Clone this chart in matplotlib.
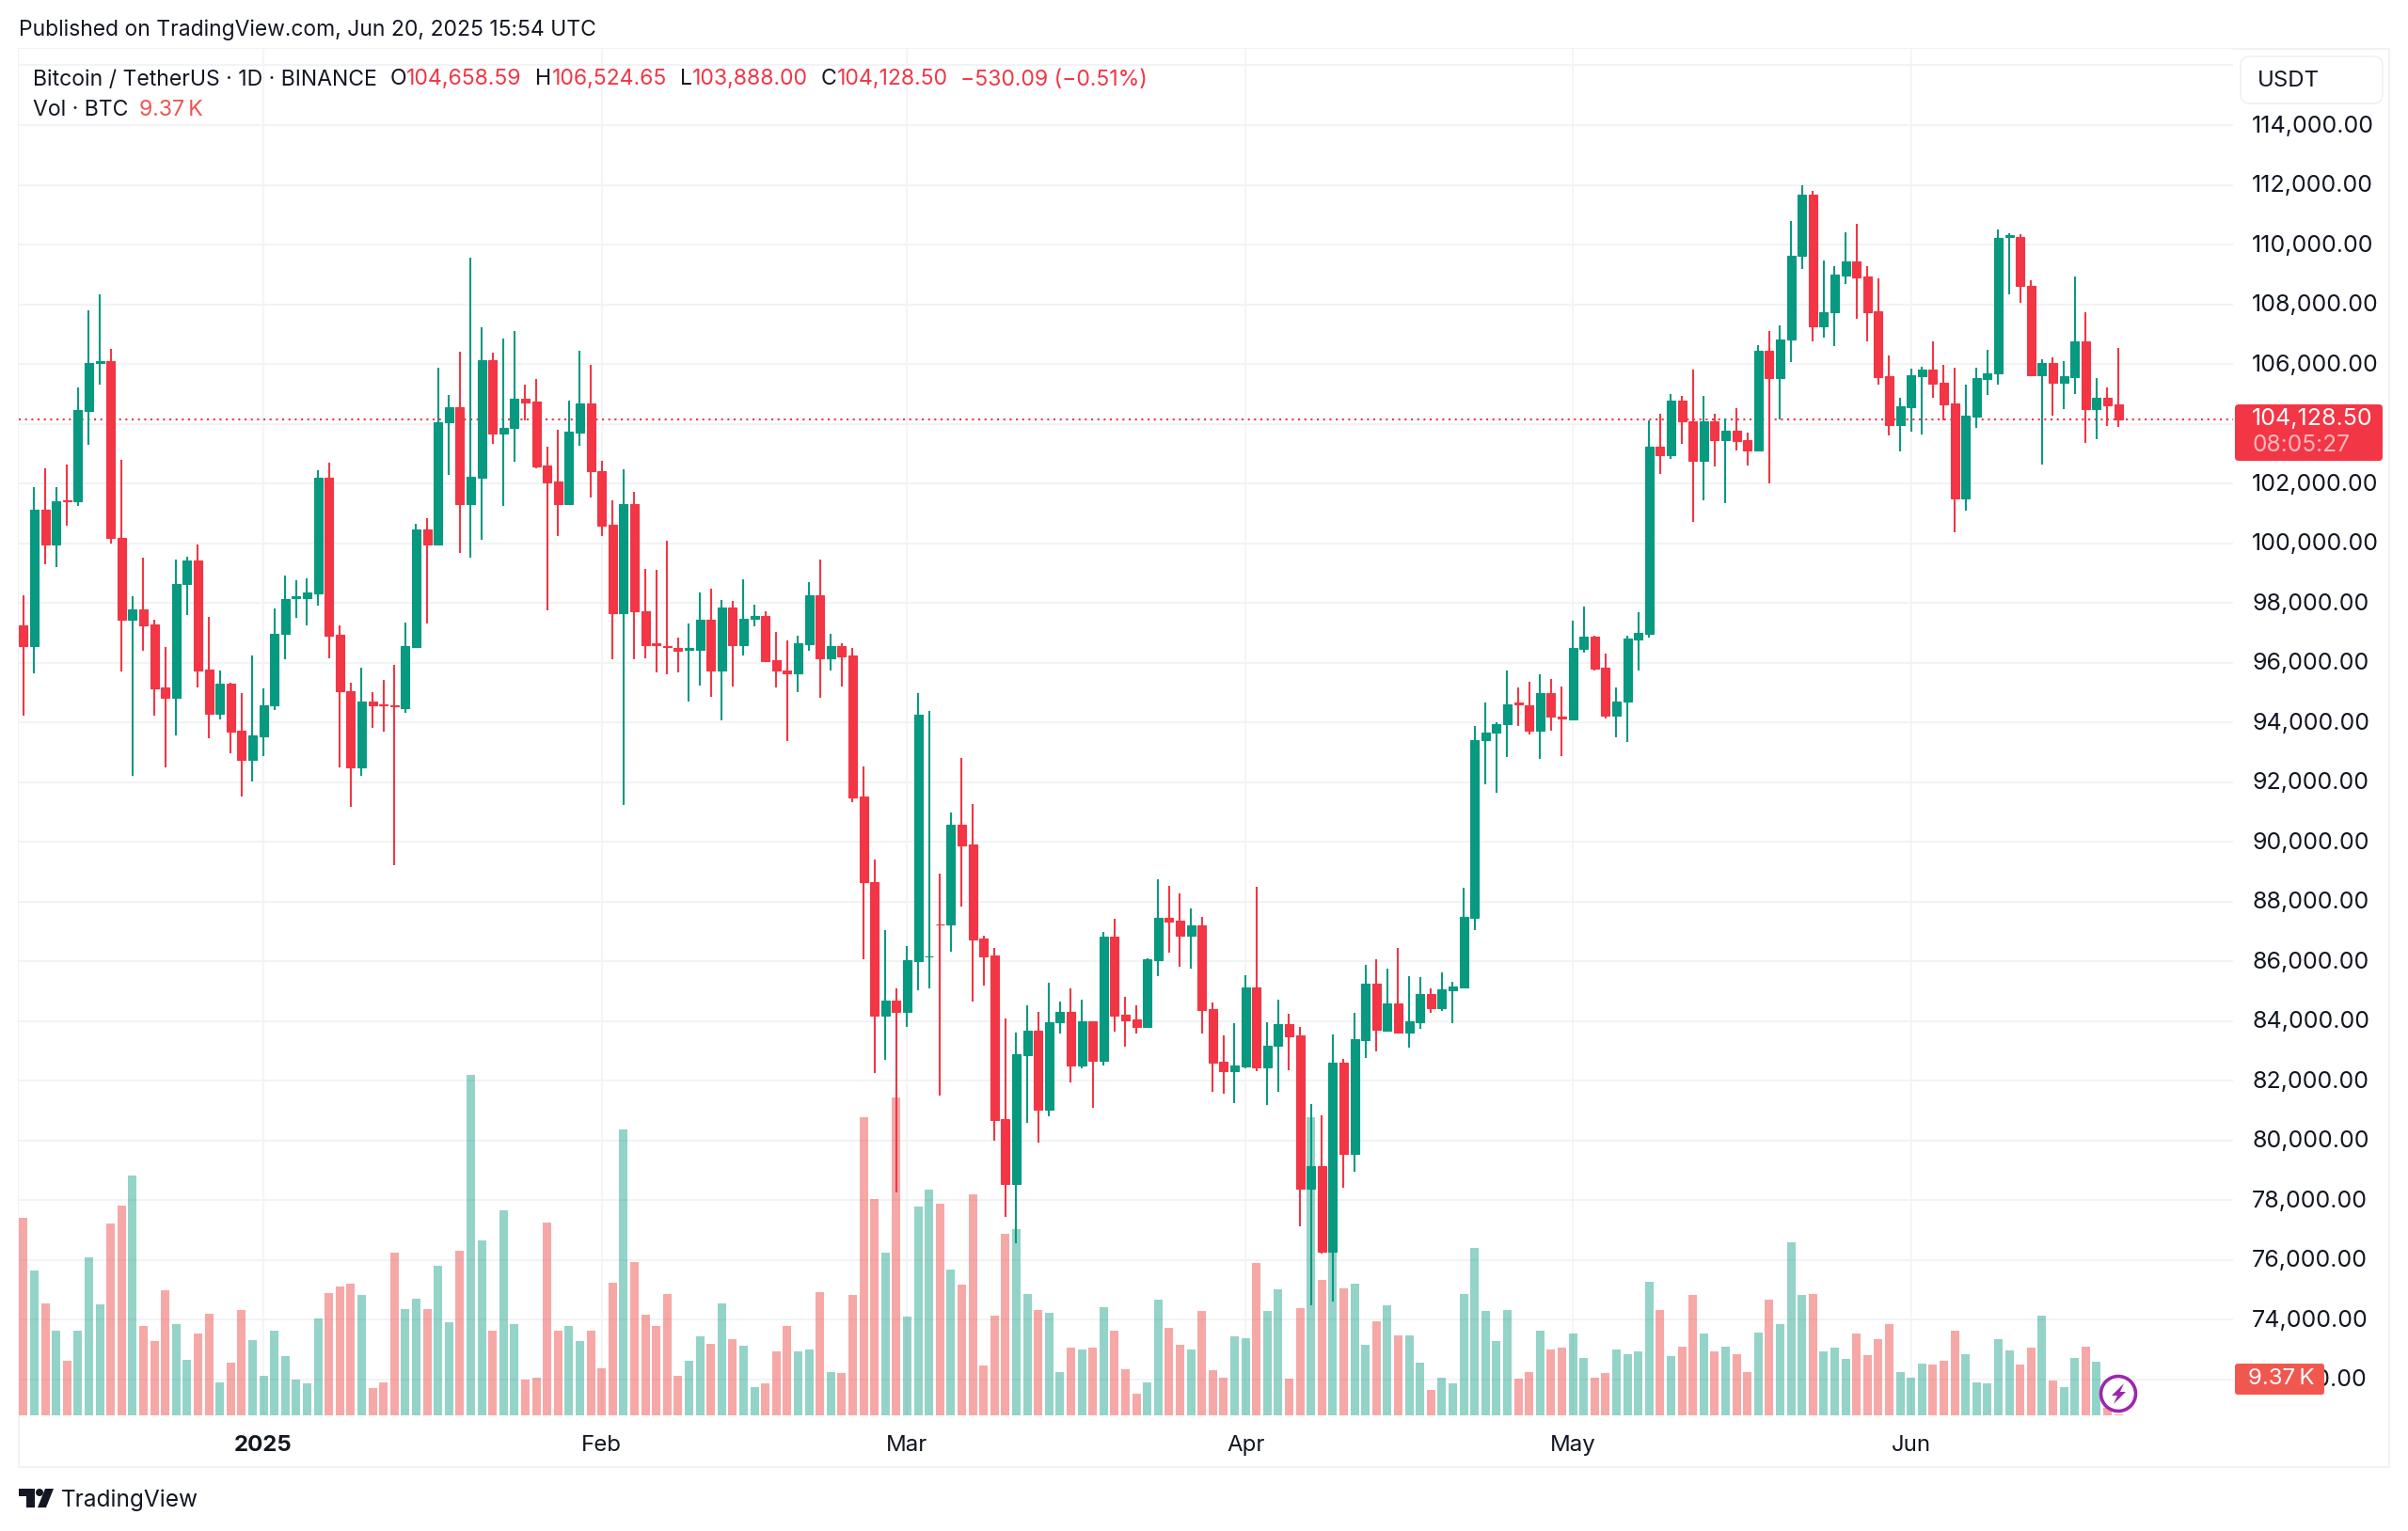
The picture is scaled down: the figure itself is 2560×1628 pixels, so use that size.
import matplotlib
matplotlib.use("Agg")
import matplotlib.dates as mdates
import pandas as pd
from matplotlib import pyplot as plt
from matplotlib.colors import to_rgba
from matplotlib.patches import Circle, FancyBboxPatch, Polygon, Rectangle
from matplotlib.transforms import Affine2D

plt.rcParams['font.family'] = ['Inter', 'DejaVu Sans']

W, H = 2560, 1628
TEXT = '#131722'
GREEN = '#089981'
RED = '#F23645'
VOL_RED = '#ef5350'
GRID = '#f2f3f5'

# daily candles, 10 Dec 2024 to 20 Jun 2025
first_day = '2024-12-10'
opens = [
    97240, 96550, 101110, 99950, 101430, 101400, 104440, 106040, 106100, 100190,
    97440, 97775, 97270, 95170, 94835, 98620, 99405, 95780, 94275, 95300,
    93710, 92755, 93540, 94555, 96960, 98170, 98170, 98325, 102200, 96930,
    95045, 92490, 94710, 94610, 94555, 94485, 96510, 100470, 99955, 104045,
    104550, 101305, 102200, 106125, 103680, 103860, 104845, 104735, 102600, 102050,
    101305, 103710, 104690, 102415, 100615, 97650, 101320, 97730, 96635, 96565,
    96480, 96425, 96425, 97440, 95735, 97845, 96580, 97465, 97550, 96090,
    95750, 95640, 96610, 98265, 96130, 96540, 96240, 91515, 88655, 84190,
    84670, 84300, 86020, 86165, 87240, 87225, 90570, 89895, 86760, 86200,
    80720, 78550, 82870, 83675, 81040, 83950, 84300, 82500, 84000, 82660,
    86825, 84205, 84060, 83785, 86035, 87465, 87370, 86855, 87195, 84400,
    82630, 82325, 82485, 85120, 82435, 83160, 83885, 83515, 78370, 79125,
    76265, 82600, 79545, 83355, 85250, 83690, 84575, 83610, 83965, 84910,
    84430, 85040, 85120, 87465, 93390, 93655, 93935, 94655, 94585, 93725,
    94975, 94205, 94105, 96465, 96875, 95835, 94220, 94695, 96790, 96975,
    103230, 102945, 104785, 104090, 102755, 104090, 103460, 103755, 103440, 103095,
    106430, 105530, 106810, 109610, 111670, 107260, 107725, 108960, 109425, 108920,
    107775, 105580, 103945, 104565, 105590, 105825, 105360, 104670, 101490, 104250,
    105510, 105685, 110250, 110265, 108615, 105620, 106030, 105370, 105570, 106770,
    104490, 104880, 104658.59,
]
highs = [
    98250, 101880, 102500, 101880, 102625, 105210, 107785, 108330, 106500, 102790,
    98225, 99520, 97440, 96510, 99460, 99545, 99955, 97520, 95720, 95330,
    94975, 96240, 95130, 97820, 98930, 98760, 98815, 102440, 102695, 97240,
    95340, 95820, 95020, 95410, 95930, 97350, 100640, 100825, 105860, 104975,
    106410, 109570, 107225, 106380, 106845, 107110, 105295, 105495, 103245, 103790,
    104760, 106435, 105985, 102750, 101445, 102470, 101710, 99125, 99095, 100095,
    96850, 97310, 98335, 98465, 98085, 98055, 98790, 97945, 97705, 97030,
    96735, 96890, 98700, 99460, 96960, 96635, 96480, 92530, 89395, 87035,
    85090, 86520, 94990, 94380, 88930, 90970, 92800, 91275, 86855, 86455,
    84075, 83610, 84525, 84300, 85280, 84640, 85105, 84720, 84000, 86985,
    87435, 84815, 84525, 86100, 88735, 88510, 88270, 87755, 87500, 84625,
    83515, 83915, 85540, 88480, 83965, 84700, 84240, 83790, 81230, 80830,
    83560, 82725, 84270, 85890, 86070, 85765, 86455, 85505, 85475, 85090,
    85635, 85315, 88450, 93865, 94680, 93993, 95750, 95175, 95355, 95595,
    95455, 95200, 97410, 97875, 96905, 96300, 95175, 96905, 97690, 104120,
    104335, 104985, 104940, 105800, 104940, 104335, 104175, 104510, 103700, 106640,
    107105, 107290, 110790, 111975, 111785, 109475, 109285, 110400, 110695, 109265,
    108870, 106275, 104880, 105855, 105905, 106770, 105980, 105885, 105300, 105885,
    106465, 110515, 110390, 110360, 108805, 106160, 106220, 106095, 108930, 107745,
    105520, 105215, 106524.65,
]
lows = [
    94220, 95637, 99290, 99195, 100600, 101250, 103300, 105310, 99980, 95690,
    92220, 96400, 94220, 92490, 93560, 97605, 95175, 93470, 94105, 92980,
    91530, 92010, 92870, 94400, 96100, 97495, 97240, 97915, 96145, 92490,
    91180, 92205, 93810, 93680, 89225, 94330, 96495, 97310, 99940, 102275,
    99660, 99530, 100110, 103340, 101235, 102725, 104115, 102500, 97760, 100250,
    101305, 103270, 101530, 100250, 96115, 91220, 96115, 96160, 95665, 95610,
    95665, 94695, 95230, 94865, 94075, 95200, 96255, 97210, 96015, 95175,
    93375, 95020, 96400, 94835, 95750, 95200, 91335, 86055, 82245, 82710,
    78260, 83800, 85040, 85105, 81490, 86310, 87820, 84640, 85185, 80000,
    77425, 76570, 80590, 79915, 80800, 83595, 81955, 82405, 81105, 82500,
    83630, 83145, 83595, 83785, 85505, 86295, 85830, 85765, 83580, 81635,
    81555, 81265, 82405, 82310, 81200, 81620, 82355, 77120, 74480, 76200,
    74595, 78420, 78950, 82775, 82985, 83675, 83580, 83095, 83740, 84270,
    84335, 83930, 85120, 87050, 91925, 91645, 92825, 93865, 93600, 92770,
    93725, 92880, 94105, 96325, 95720, 94135, 93500, 93345, 95750, 96850,
    102305, 102830, 103335, 100710, 101425, 102580, 101350, 103095, 102600, 103095,
    102000, 104135, 106075, 109190, 106765, 106875, 106600, 108665, 107510, 106745,
    105320, 103620, 103075, 103735, 103650, 104855, 104125, 100365, 101090, 103860,
    104950, 105320, 108340, 108060, 105620, 102645, 104280, 104500, 104985, 103365,
    103490, 103910, 103888.00,
]
closes = [
    96550, 101110, 99950, 101400, 101400, 104450, 106040, 106100, 100180, 97440,
    97775, 97240, 95145, 94835, 98645, 99405, 95750, 94275, 95300, 93700,
    92755, 93555, 94555, 96960, 98140, 98225, 98340, 102200, 96915, 95035,
    92500, 94710, 94585, 94585, 94525, 96540, 100470, 99955, 104060, 104550,
    101305, 102230, 106125, 103680, 103875, 104845, 104705, 102570, 102035, 101305,
    103720, 104690, 102400, 100600, 97650, 101320, 97705, 96580, 96580, 96525,
    96410, 96480, 97440, 95735, 97845, 96580, 97480, 97550, 96045, 95735,
    95640, 96635, 98265, 96130, 96540, 96215, 91490, 88640, 84190, 84670,
    84300, 86040, 94250, 86165, 87225, 90570, 89880, 86745, 86165, 80685,
    78550, 82900, 83675, 81040, 83965, 84300, 82500, 83995, 82660, 86825,
    84175, 84030, 83785, 86070, 87465, 87340, 86855, 87195, 84365, 82600,
    82325, 82520, 85120, 82455, 83160, 83885, 83480, 78370, 79125, 76265,
    82600, 79545, 83385, 85250, 83710, 84575, 83610, 83980, 84910, 84430,
    85055, 85155, 87500, 93395, 93670, 93935, 94610, 94610, 93725, 94975,
    94205, 94120, 96480, 96875, 95805, 94220, 94710, 96805, 96990, 103230,
    102945, 104785, 104070, 102755, 104090, 103460, 103755, 103420, 103095, 106430,
    105530, 106830, 109635, 111670, 107260, 107745, 108980, 109425, 108910, 107745,
    105570, 103945, 104575, 105615, 105825, 105350, 104650, 101490, 104260, 105520,
    105695, 110230, 110315, 108605, 105620, 106030, 105370, 105580, 106770, 104490,
    104880, 104615, 104128.50,
]
# volume in thousand BTC
volumes = [
    55.2, 42.9, 35.2, 28.8, 21.8, 29.0, 46.0, 35.0, 54.0, 58.1,
    65.2, 30.1, 26.5, 38.3, 30.4, 22.0, 28.2, 32.8, 16.7, 21.4,
    33.7, 26.7, 18.4, 28.8, 22.9, 17.4, 16.5, 31.7, 37.8, 39.2,
    39.9, 37.3, 15.5, 16.9, 47.1, 33.9, 36.3, 33.9, 44.1, 30.9,
    47.7, 88.8, 50.1, 29.0, 57.1, 30.4, 17.4, 18.0, 54.3, 28.8,
    29.9, 26.5, 28.8, 20.1, 40.1, 76.0, 44.9, 32.6, 30.1, 37.5,
    18.3, 21.8, 27.6, 25.8, 35.2, 26.9, 25.4, 15.8, 16.5, 24.0,
    30.1, 24.0, 24.4, 38.0, 19.2, 18.9, 37.3, 78.8, 59.8, 47.1,
    83.4, 32.2, 57.9, 61.8, 58.6, 43.3, 39.7, 60.7, 20.8, 32.4,
    51.5, 52.6, 37.5, 33.7, 33.1, 19.2, 25.0, 24.6, 25.0, 34.3,
    28.8, 19.9, 14.2, 16.7, 36.1, 29.5, 25.6, 24.4, 33.5, 19.7,
    18.0, 27.6, 27.1, 44.7, 33.5, 38.6, 17.6, 34.2, 78.8, 40.7,
    47.6, 38.8, 39.8, 25.6, 31.2, 34.8, 27.8, 27.8, 21.4, 15.0,
    17.8, 16.5, 37.5, 48.2, 33.5, 26.5, 33.7, 17.6, 19.2, 29.0,
    24.4, 25.0, 28.2, 22.5, 18.0, 19.1, 24.6, 23.5, 24.1, 40.3,
    33.7, 22.9, 25.2, 37.2, 28.2, 24.0, 25.2, 23.3, 19.3, 28.4,
    36.1, 30.4, 49.6, 37.3, 37.5, 24.1, 25.0, 22.2, 28.2, 23.1,
    26.9, 30.4, 19.2, 18.0, 21.2, 21.0, 21.8, 29.0, 23.3, 16.8,
    16.5, 26.9, 24.3, 21.0, 25.0, 32.4, 17.2, 15.6, 22.5, 25.2,
    21.6, 10.8, 9.37,
]
price_ticks = list(range(72000, 116001, 2000))
hidden_price_labels = [116000, 104000]
month_ticks = ['2025-01-01', '2025-02-01', '2025-03-01', '2025-04-01', '2025-05-01', '2025-06-01']
month_labels = ['2025', 'Feb', 'Mar', 'Apr', 'May', 'Jun']
last_price = 104128.50

fig = plt.figure(figsize=(W / 100, H / 100), dpi=100, facecolor='white')
# pixel coordinates from the top left of the picture
px = Affine2D().scale(1, -1).translate(0, H)

# plot area in pixels
left, right, top, bottom = 19.5, 2374, 52, 1505
rect = [left / W, 1 - bottom / H, (right - left) / W, (bottom - top) / H]
days = mdates.date2num(pd.date_range(first_day, periods=len(closes)))

ax = fig.add_axes(rect)
ax_vol = fig.add_axes(rect, sharex=ax)
ax_candle = fig.add_axes(rect, sharex=ax, sharey=ax)
ax.set_zorder(1)
ax_vol.set_zorder(2)
ax_candle.set_zorder(3)
ax_vol.set_axis_off()
ax_candle.set_axis_off()

day_px = 11.6
ax.set_xlim(days[0] - (24.9 - left) / day_px, days[0] + (right - 24.9) / day_px)
ax.set_ylim(70795, 116551)
ax_vol.set_ylim(9.1, 9.1 + (bottom - top) * 0.22)

# grid and axis labels
ax.set_yticks(price_ticks)
ax.set_yticklabels(['' if p in hidden_price_labels else f'{p:,.2f}' for p in price_ticks])
ax.set_xticks(mdates.date2num(pd.to_datetime(month_ticks)))
ax.set_xticklabels(month_labels)
ax.xaxis.get_ticklabels()[0].set_fontweight('bold')
ax.yaxis.tick_right()
ax.tick_params(axis='y', length=0, pad=14.4, labelsize=18, labelcolor=TEXT)
ax.tick_params(axis='x', length=0, pad=15, labelsize=17.3, labelcolor=TEXT)
# the price labels sit a little above their gridlines
for tick in ax.yaxis.get_major_ticks():
    tick.label2.set_transform(tick.label2.get_transform() + Affine2D().translate(0, 1.5))
ax.grid(axis='y', color=GRID, linewidth=1.5)
ax.grid(axis='x', color=GRID, linewidth=1.1)
ax.set_axisbelow(True)
for spine in ax.spines.values():
    spine.set_visible(False)

# volume bars, coloured by candle direction
vol_colors = [to_rgba(GREEN, 0.43) if c >= o else to_rgba(VOL_RED, 0.5) for o, c in zip(opens, closes)]
ax_vol.bar(days, volumes, width=0.78, color=vol_colors, linewidth=0)

# candles
candle_colors = [GREEN if c >= o else RED for o, c in zip(opens, closes)]
body_low = [min(o, c) for o, c in zip(opens, closes)]
body_size = [abs(c - o) for o, c in zip(opens, closes)]
ax_candle.vlines(days, lows, highs, color=candle_colors, linewidth=1.5, zorder=2)
ax_candle.bar(days, body_size, bottom=body_low, width=0.76, color=candle_colors,
              edgecolor=candle_colors, linewidth=0.8, zorder=3)

# last price line
ax_candle.axhline(last_price, color=RED, linewidth=1.5, linestyle=(0, (1, 2.2)), zorder=1)

# outer frame
fig.add_artist(Rectangle((left, top), 2540 - left, 1560 - top, transform=px,
                         fill=False, edgecolor='#f0f2f5', linewidth=1.4))

# header text
fig.text(20, 32, 'Published on TradingView.com, Jun 20, 2025 15:54 UTC', transform=px,
         fontsize=16.5, color=TEXT, va='center')
legend_parts = [
    (35, 'Bitcoin / TetherUS · 1D · BINANCE', TEXT),
    (415, 'O', TEXT), (432, '104,658.59', RED),
    (569, 'H', TEXT), (587, '106,524.65', RED),
    (723, 'L', TEXT), (736, '103,888.00', RED),
    (873, 'C', TEXT), (890, '104,128.50', RED),
    (1021, '−530.09 (−0.51%)', RED),
]
for x, label, color in legend_parts:
    fig.text(x, 84.5, label, transform=px, fontsize=16.6, color=color, va='center')
fig.text(35, 117, 'Vol · BTC', transform=px, fontsize=16.6, color=TEXT, va='center')
fig.text(148, 117, '9.37\u2009K', transform=px, fontsize=16.6, color=VOL_RED, va='center')

# currency button
fig.add_artist(FancyBboxPatch((2382, 60), 151, 50, boxstyle='round,pad=0,rounding_size=10',
                              transform=px, facecolor='white', edgecolor='#f0f2f5',
                              linewidth=1.4, zorder=5))
fig.text(2400, 86, 'USDT', transform=px, fontsize=17.3, color=TEXT, va='center', zorder=6)

# last price tag
fig.add_artist(FancyBboxPatch((2376, 430), 157, 60, boxstyle='round,pad=0,rounding_size=4',
                              transform=px, facecolor=RED, edgecolor='none', zorder=5))
fig.text(2394, 445, f'{last_price:,.2f}', transform=px, fontsize=18, color='white', va='center', zorder=6)
fig.text(2394, 473, '08:05:27', transform=px, fontsize=17.6, color='#fbb8be', va='center', zorder=6)

# volume tag
fig.add_artist(FancyBboxPatch((2376, 1450), 95, 33, boxstyle='round,pad=0,rounding_size=3',
                              transform=px, facecolor='#f0584f', edgecolor='none', zorder=5))
fig.text(2425, 1466, '9.37\u2009K', transform=px, fontsize=17.3, color='white', va='center',
         ha='center', zorder=6)

# lightning badge
fig.add_artist(Circle((2252, 1482), 18.5, transform=px, facecolor='white',
                      edgecolor='#9c27b0', linewidth=2.6, zorder=5))
fig.add_artist(Polygon([(2258, 1471), (2245, 1484), (2251, 1484), (2247, 1493),
                        (2260, 1480), (2254, 1480)], transform=px, facecolor='#9c27b0',
                       edgecolor='none', zorder=6))

# TradingView logo
fig.add_artist(Polygon([(19.5, 1583), (37, 1583), (37, 1603), (28, 1603), (28, 1591), (19.5, 1591)],
                       transform=px, facecolor=TEXT, edgecolor='none'))
fig.add_artist(Circle((42, 1587), 4, transform=px, facecolor=TEXT, edgecolor='none'))
fig.add_artist(Polygon([(48, 1583), (57, 1583), (49, 1603), (40, 1603)], transform=px,
                       facecolor=TEXT, edgecolor='none'))
fig.text(65, 1595, 'TradingView', transform=px, fontsize=17.6, color=TEXT, va='center')

fig.savefig('out.png', dpi=100, facecolor='white')
